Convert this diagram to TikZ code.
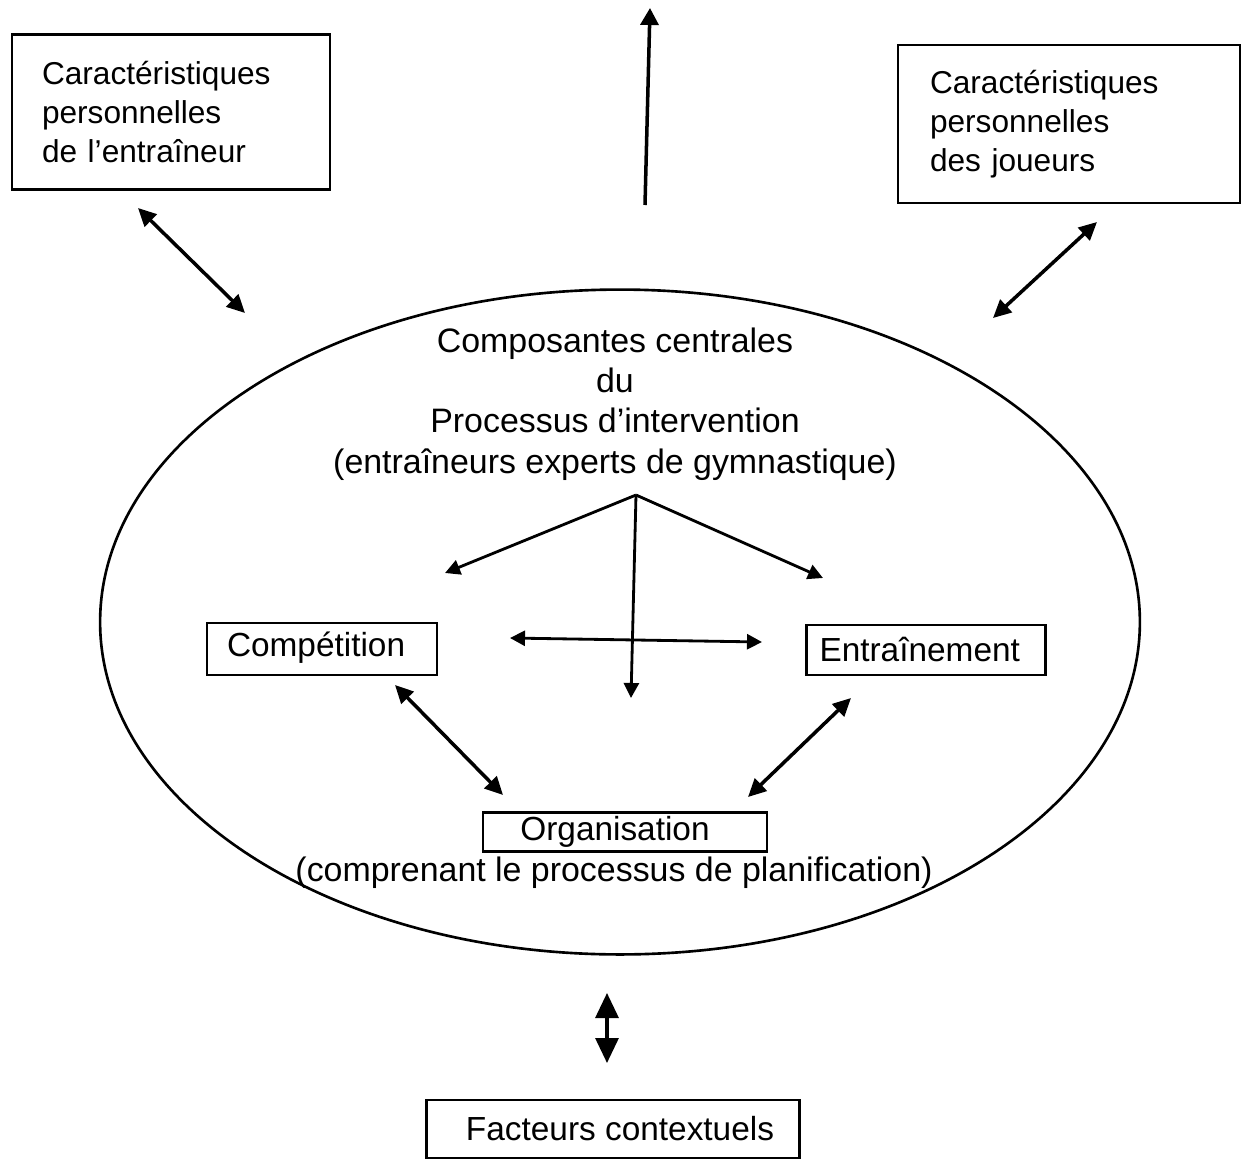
\documentclass[tikz,border=0pt]{standalone}
\usepackage{fontspec}
\setmainfont{Liberation Sans}
\usetikzlibrary{arrows.meta,shapes.geometric}

\tikzset{
  box/.style={draw,line width=1.3pt,inner sep=0pt,font=\fontsize{19}{23}\selectfont},
  lbl/.style={inner sep=0pt,font=\fontsize{19.3}{23}\selectfont},
  dbl/.style={line width=2pt,{Triangle[length=3.6mm,width=3.4mm]}-{Triangle[length=3.6mm,width=3.4mm]}},
  thin/.style={line width=1.6pt,-{Triangle[length=3mm,width=3mm]}},
}

\begin{document}
\begin{tikzpicture}[x=0.02cm,y=-0.02cm]
\useasboundingbox (0,0) rectangle (1249,1160);

% the two outer boxes
\node[box,font=\fontsize{18}{22}\selectfont,minimum width=6.36cm,minimum height=3.1cm,text width=5.16cm,align=left] (coach) at (171,112)
  {Caractéristiques\\personnelles\\de l'entraîneur};
\node[box,font=\fontsize{18}{22}\selectfont,minimum width=6.84cm,minimum height=3.16cm,text width=5.56cm,align=left] (players) at (1069,124)
  {Caractéristiques\\personnelles\\des joueurs};

% central process
\node[draw,ellipse,line width=1.5pt,minimum width=20.8cm,minimum height=13.3cm] (core) at (620,622) {};
\node[lbl,align=center] (title) at (615,404)
  {Composantes centrales\\du\\Processus d'intervention\\(entraîneurs experts de gymnastique)};

\node[box,minimum width=4.6cm,minimum height=1.04cm,text width=3.8cm,align=left] (comp) at (322,649) {Compétition\rule[-6pt]{0pt}{6pt}};
\node[box,minimum width=4.78cm,minimum height=1cm,text width=4.26cm,align=left] (train) at (926,650) {Entraînement};
\node[box,minimum width=5.68cm,minimum height=0.78cm] (orga) at (625,832) {Organisation\kern0.4cm};
\node[lbl] (plan) at (614,873) {(comprenant le processus de planification)};

\node[box,minimum width=7.46cm,minimum height=1.16cm] (context) at (613,1129) {\hspace{0.28cm}Facteurs contextuels};

% free ends of the arrows
\coordinate (upA) at (645,205);
\coordinate (upB) at (650,8);
\coordinate (tlA) at (138,208);
\coordinate (tlB) at (245,313);
\coordinate (trA) at (1097,222);
\coordinate (trB) at (993,318);
\coordinate (fork) at (636,495);
\coordinate (forkL) at (445,573);
\coordinate (forkR) at (823,578);
\coordinate (forkD) at (631,698);
\coordinate (midL) at (510,638);
\coordinate (midR) at (762,642);
\coordinate (coA) at (395,685);
\coordinate (coB) at (503,795);
\coordinate (enA) at (851,698);
\coordinate (enB) at (748,797);
\coordinate (ctA) at (607,993);
\coordinate (ctB) at (607,1063);

\draw[line width=2pt,-{Triangle[length=3.4mm,width=3.6mm]}] (upA) -- (upB);
\draw[dbl] (tlA) -- (tlB);
\draw[dbl] (trA) -- (trB);

\draw[thin] (fork) -- (forkL);
\draw[thin] (fork) -- (forkR);
\draw[thin] (fork) -- (forkD);
\draw[line width=1.6pt,{Triangle[length=3mm,width=3mm]}-{Triangle[length=3mm,width=3mm]}] (midL) -- (midR);

\draw[dbl] (coA) -- (coB);
\draw[dbl] (enA) -- (enB);

\draw[line width=1.8pt,{Triangle[length=5mm,width=4.6mm]}-{Triangle[length=5mm,width=4.6mm]}] (ctA) -- (ctB);
\end{tikzpicture}
\end{document}
